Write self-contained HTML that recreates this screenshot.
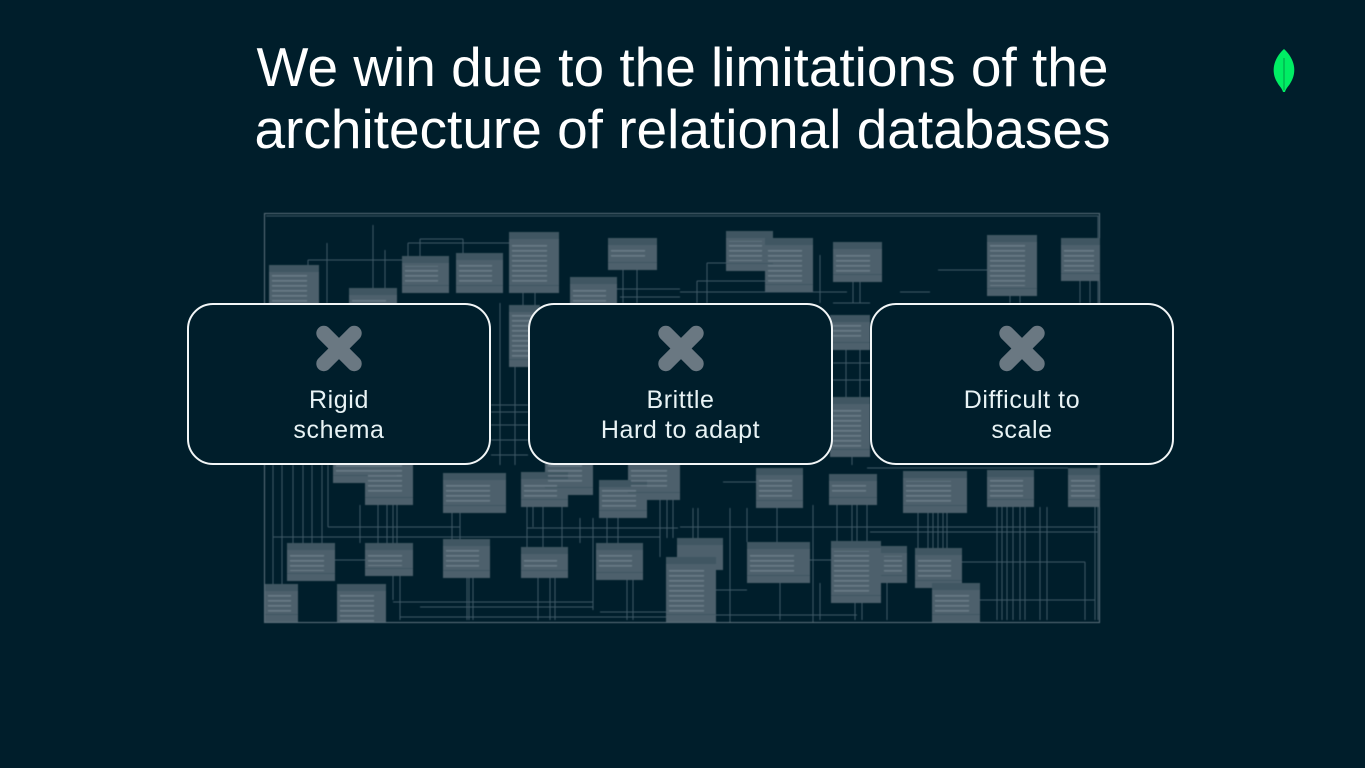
<!DOCTYPE html>
<html><head><meta charset="utf-8">
<style>
html,body{margin:0;padding:0;}
body{width:1365px;height:768px;background:#001e2b;position:relative;overflow:hidden;font-family:"Liberation Sans",sans-serif;}
.title{position:absolute;left:0;top:36px;width:1365px;text-align:center;color:#ffffff;font-size:55px;line-height:62px;white-space:nowrap;}
svg.bg{position:absolute;left:0;top:0;}
.card{position:absolute;top:303px;height:162px;box-sizing:border-box;border:2px solid #f2f6f7;border-radius:26px;background:#001e2b;}
.x{position:absolute;left:50%;top:43px;width:0;height:0;}
.x:before,.x:after{content:"";position:absolute;left:-29px;top:-7.5px;width:58px;height:15px;border-radius:7.5px;background:#6a7882;}
.x:before{transform:rotate(45deg);}
.x:after{transform:rotate(-45deg);}
.lbl{position:absolute;left:0;right:0;top:80px;text-align:center;color:#e8f3f5;font-size:25px;line-height:30px;letter-spacing:0.6px;white-space:nowrap;}
</style></head>
<body>
<svg class="bg" width="1365" height="768" viewBox="0 0 1365 768" xmlns="http://www.w3.org/2000/svg">
<defs>
<pattern id="t" patternUnits="userSpaceOnUse" width="10" height="5"><rect x="0" y="0" width="10" height="1.6" fill="#8594a0"/></pattern>
<filter id="bl" x="-5%" y="-5%" width="110%" height="110%"><feGaussianBlur stdDeviation="0.45"/></filter>
</defs>
<g filter="url(#bl)">
<g stroke="#405966" stroke-width="1" fill="none" shape-rendering="crispEdges">
<path d="M308 260H402 M408 243H509 M420 239H463 M593 289H680 M620 297H680 M900 292H930 M707 263H765 M697 281H765 M680 292H847 M938 270H987 M266 216H1098V620"/>
<path d="M308 260V303 M327 243V303 M373 225V288 M385 250V303 M408 243V256 M420 239V256 M463 239V253 M523 293V305 M535 293V305 M623 270V303 M637 270V303 M707 263V303 M697 281V303 M820 255V303 M853 282V303 M860 282V303 M1080 281V303 M1090 281V303 M1010 296V303 M1020 296V303"/>
<path d="M491 405H528 M491 412H528 M491 425H528 M491 440H528 M491 455H528 M833 363H870 M833 303H870 M833 380H870 M500 303V465 M515 367V465 M846 350V397 M860 350V397 M852 455V465"/>
<path d="M273 465V584 M282 465V620 M293 465V543 M303 465V543 M312 465V543 M322 465V543 M328 465V527 M360 505V543 M378 505V543 M387 505V543 M393 505V600 M397 505V543 M400 576V620 M452 513V539 M460 513V539 M467 578V620 M469 578V620 M473 578V620 M527 507V547 M533 507V527 M538 578V620 M543 507V547 M550 578V620 M555 578V620 M562 507V547 M580 518V543 M593 518V610 M607 518V543 M618 518V543 M627 580V620 M633 580V620 M660 500V557 M667 500V538 M673 500V538"/>
<path d="M693 508V538 M698 508V538 M730 508V622 M747 508V542 M777 508V542 M780 583V620 M813 505V622 M820 583V620 M837 505V541 M852 505V541 M855 603V620 M857 505V541 M862 603V620 M867 505V541 M887 583V620 M918 513V548 M928 513V548 M933 513V548 M938 513V548 M943 513V548 M947 513V548 M997 507V620 M1002 507V620 M1007 507V620 M1013 507V620 M1020 507V620 M1025 507V620 M1040 507V620 M1047 507V620 M1085 562V620 M1095 507V620"/>
<path d="M328 527H460 M527 528H678 M273 537H660 M335 560H365 M393 602H593 M420 607H593 M600 612H666 M400 617H666 M867 468H1068 M723 482H757 M680 527H1098 M870 532H1098 M962 562H1085 M680 615H857 M716 590H747 M810 560H831 M980 600H1095"/>
</g>
<rect x="264.5" y="213.5" width="835" height="409" fill="none" stroke="#5d717b" stroke-width="1"/>
<g fill="#4d616c">
<rect x="269" y="265" width="50" height="60"/><rect x="349" y="288" width="48" height="30"/><rect x="402" y="256" width="47" height="37"/><rect x="456" y="253" width="47" height="40"/><rect x="509" y="232" width="50" height="61"/><rect x="570" y="277" width="47" height="40"/><rect x="608" y="238" width="49" height="32"/><rect x="726" y="231" width="47" height="40"/><rect x="765" y="238" width="48" height="54"/><rect x="833" y="242" width="49" height="40"/><rect x="987" y="235" width="50" height="61"/><rect x="1061" y="238" width="39" height="43"/><rect x="509" y="305" width="31" height="62"/><rect x="830" y="315" width="40" height="35"/><rect x="830" y="397" width="40" height="60"/>
<rect x="333" y="440" width="64" height="43"/><rect x="365" y="450" width="48" height="55"/><rect x="443" y="473" width="63" height="40"/><rect x="521" y="472" width="47" height="35"/><rect x="545" y="455" width="48" height="40"/><rect x="599" y="480" width="48" height="38"/><rect x="628" y="460" width="52" height="40"/>
<rect x="287" y="543" width="48" height="38"/><rect x="365" y="543" width="48" height="33"/><rect x="443" y="539" width="47" height="39"/><rect x="521" y="547" width="47" height="31"/><rect x="596" y="543" width="47" height="37"/><rect x="677" y="538" width="46" height="32"/><rect x="666" y="557" width="50" height="65"/><rect x="265" y="584" width="33" height="38"/><rect x="337" y="584" width="49" height="38"/>
<rect x="756" y="468" width="47" height="40"/><rect x="829" y="474" width="48" height="31"/><rect x="903" y="471" width="64" height="42"/><rect x="987" y="470" width="47" height="37"/><rect x="1068" y="468" width="32" height="39"/><rect x="747" y="542" width="63" height="41"/><rect x="831" y="541" width="50" height="62"/><rect x="881" y="546" width="26" height="37"/><rect x="915" y="548" width="47" height="40"/><rect x="932" y="583" width="48" height="39"/>
</g>
<g fill="#415662">
<rect x="269" y="265" width="50" height="7"/><rect x="349" y="288" width="48" height="7"/><rect x="402" y="256" width="47" height="7"/><rect x="456" y="253" width="47" height="7"/><rect x="509" y="232" width="50" height="7"/><rect x="570" y="277" width="47" height="7"/><rect x="608" y="238" width="49" height="7"/><rect x="726" y="231" width="47" height="7"/><rect x="765" y="238" width="48" height="7"/><rect x="833" y="242" width="49" height="7"/><rect x="987" y="235" width="50" height="7"/><rect x="1061" y="238" width="39" height="7"/><rect x="509" y="305" width="31" height="7"/><rect x="830" y="315" width="40" height="7"/><rect x="830" y="397" width="40" height="7"/>
<rect x="443" y="473" width="63" height="7"/><rect x="521" y="472" width="47" height="7"/><rect x="599" y="480" width="48" height="7"/>
<rect x="287" y="543" width="48" height="7"/><rect x="365" y="543" width="48" height="7"/><rect x="443" y="539" width="47" height="7"/><rect x="521" y="547" width="47" height="7"/><rect x="596" y="543" width="47" height="7"/><rect x="677" y="538" width="46" height="7"/><rect x="666" y="557" width="50" height="7"/><rect x="265" y="584" width="33" height="7"/><rect x="337" y="584" width="49" height="7"/>
<rect x="756" y="468" width="47" height="7"/><rect x="829" y="474" width="48" height="7"/><rect x="903" y="471" width="64" height="7"/><rect x="987" y="470" width="47" height="7"/><rect x="1068" y="468" width="32" height="7"/><rect x="747" y="542" width="63" height="7"/><rect x="831" y="541" width="50" height="7"/><rect x="881" y="546" width="26" height="7"/><rect x="915" y="548" width="47" height="7"/><rect x="932" y="583" width="48" height="7"/>
<rect x="269" y="317" width="50" height="1"/><rect x="402" y="285" width="47" height="1"/><rect x="456" y="285" width="47" height="1"/><rect x="509" y="285" width="50" height="1"/><rect x="608" y="262" width="49" height="1"/><rect x="726" y="263" width="47" height="1"/><rect x="765" y="284" width="48" height="1"/><rect x="833" y="274" width="49" height="1"/><rect x="987" y="288" width="50" height="1"/><rect x="1061" y="273" width="39" height="1"/><rect x="509" y="359" width="31" height="1"/><rect x="830" y="342" width="40" height="1"/><rect x="830" y="449" width="40" height="1"/>
<rect x="333" y="475" width="64" height="1"/><rect x="365" y="497" width="48" height="1"/><rect x="443" y="505" width="63" height="1"/><rect x="521" y="499" width="47" height="1"/><rect x="545" y="487" width="48" height="1"/><rect x="599" y="510" width="48" height="1"/><rect x="628" y="492" width="52" height="1"/>
<rect x="287" y="573" width="48" height="1"/><rect x="365" y="568" width="48" height="1"/><rect x="443" y="570" width="47" height="1"/><rect x="521" y="570" width="47" height="1"/><rect x="596" y="572" width="47" height="1"/><rect x="666" y="614" width="50" height="1"/><rect x="265" y="614" width="33" height="1"/>
<rect x="756" y="500" width="47" height="1"/><rect x="829" y="497" width="48" height="1"/><rect x="903" y="505" width="64" height="1"/><rect x="987" y="499" width="47" height="1"/><rect x="1068" y="499" width="32" height="1"/><rect x="747" y="575" width="63" height="1"/><rect x="831" y="595" width="50" height="1"/><rect x="881" y="575" width="26" height="1"/><rect x="915" y="580" width="47" height="1"/><rect x="932" y="614" width="48" height="1"/>
</g>
<g fill="url(#t)" opacity="0.5">
<rect x="272" y="275" width="35" height="40"/><rect x="352" y="298" width="34" height="10"/><rect x="405" y="266" width="33" height="17"/><rect x="459" y="263" width="33" height="20"/><rect x="512" y="242" width="35" height="41"/><rect x="573" y="287" width="33" height="20"/><rect x="611" y="248" width="34" height="12"/><rect x="729" y="241" width="33" height="20"/><rect x="768" y="248" width="34" height="34"/><rect x="836" y="252" width="34" height="20"/><rect x="990" y="245" width="35" height="41"/><rect x="1064" y="248" width="30" height="23"/><rect x="512" y="315" width="22" height="42"/><rect x="833" y="325" width="28" height="15"/><rect x="833" y="407" width="28" height="40"/>
<rect x="336" y="450" width="45" height="23"/><rect x="368" y="460" width="34" height="35"/><rect x="446" y="483" width="44" height="20"/><rect x="524" y="482" width="33" height="15"/><rect x="548" y="465" width="34" height="20"/><rect x="602" y="490" width="34" height="18"/><rect x="631" y="470" width="36" height="20"/>
<rect x="290" y="553" width="34" height="18"/><rect x="368" y="553" width="34" height="13"/><rect x="446" y="549" width="33" height="19"/><rect x="524" y="557" width="33" height="11"/><rect x="599" y="553" width="33" height="17"/><rect x="669" y="567" width="35" height="45"/><rect x="268" y="594" width="23" height="18"/><rect x="340" y="594" width="34" height="28"/>
<rect x="759" y="478" width="33" height="20"/><rect x="832" y="484" width="34" height="11"/><rect x="906" y="481" width="45" height="22"/><rect x="990" y="480" width="33" height="17"/><rect x="1071" y="478" width="24" height="19"/><rect x="750" y="552" width="44" height="21"/><rect x="834" y="551" width="35" height="42"/><rect x="884" y="556" width="18" height="17"/><rect x="918" y="558" width="33" height="20"/><rect x="935" y="593" width="34" height="19"/>
</g>
</g>
<path d="M1284 49 C1295 59 1297 72 1291 82 C1289 86 1286 88 1285 92 L1283 92 C1282 88 1279 86 1277 82 C1271 72 1273 59 1284 49 Z" fill="#00ed64"/>
<path d="M1284 58 L1284 90" stroke="#00a84a" stroke-width="1.2"/>
</svg>

<div class="title">We win due to the limitations of the<br>architecture of relational databases</div>

<div class="card" style="left:187px;width:304px;"><div class="x"></div><div class="lbl">Rigid<br>schema</div></div>
<div class="card" style="left:528px;width:305px;"><div class="x"></div><div class="lbl">Brittle<br>Hard to adapt</div></div>
<div class="card" style="left:870px;width:304px;"><div class="x"></div><div class="lbl">Difficult to<br>scale</div></div>
</body></html>
